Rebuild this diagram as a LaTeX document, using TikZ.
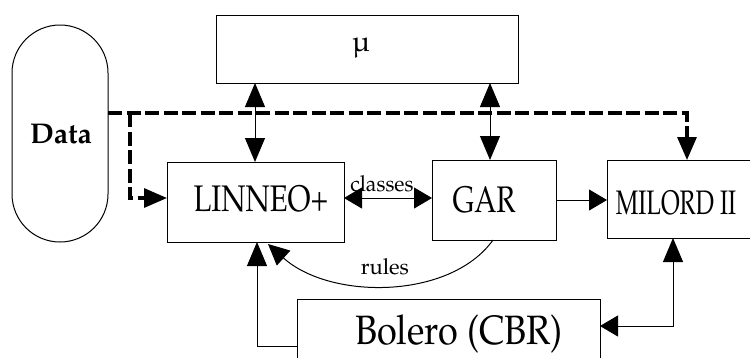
\documentclass[tikz,border=0pt]{standalone}
\usepackage[T1]{fontenc}
\usepackage{mathpazo}
\usepackage{textcomp}
\usetikzlibrary{arrows.meta,calc}
\tikzset{
  vtip/.tip={Triangle[length=24pt,width=20pt]},
  htip/.tip={Triangle[length=18pt,width=21pt]},
  dtip/.tip={Triangle[length=23pt,width=19pt]},
  rtip/.tip={Triangle[length=21pt,width=20pt]},
  box/.style={draw, line width=1pt, inner sep=0pt, outer sep=0pt},
  lab/.style={inner sep=0pt, anchor=base},
  ln/.style={line width=1pt},
  dsh/.style={line width=3.2pt, dash pattern=on 14pt off 4.5pt},
}
\newcommand{\fs}[1]{\fontsize{#1}{#1}\selectfont}
\begin{document}
\begin{tikzpicture}[x=1pt,y=-1pt]
\useasboundingbox (0,0) rectangle (750,357);
\clip (0,0) rectangle (750,357);
% shapes
\node[box, rounded corners=48pt, minimum width=96pt, minimum height=217pt] (data) at (60,133.5) {};
\node[box, minimum width=302pt, minimum height=68pt] (mu) at (367,49) {};
\node[box, minimum width=177pt, minimum height=80pt] (linneo) at (255.5,202) {};
\node[box, minimum width=124pt, minimum height=80pt] (gar) at (494,200) {};
\node[box, minimum width=148pt, minimum height=78pt] (milord) at (681,199) {};
\node[box, minimum width=303pt, minimum height=71pt] (bolero) at (448.5,334.5) {};
% texts
\node[lab] (tdata) at (61,143) {\fs{28.5}\bfseries Data};
\node[lab] (tmu) at (361,51) {\fs{29}\textmu};
\node[lab] (tlinneo) at (261,211) {\fs{37}\scalebox{0.79}[1]{LINNEO+}};
\node[lab] (tgar) at (484,212) {\fs{37}\scalebox{0.77}[1]{GAR}};
\node[lab] (tmilord) at (676,214) {\fs{34}\scalebox{0.7}[1]{MILORD II}};
\node[lab] (tbolero) at (459,344) {\fs{41}\scalebox{0.88}[1]{Bolero (CBR)}};
\node[lab] (tclasses) at (382,191) {\fs{22}\scalebox{0.96}[1]{classes}};
\node[lab] (trules) at (385,274) {\fs{22}rules};
% helper coordinates
\coordinate (xa) at (255,0);
\coordinate (xg) at (490,0);
\coordinate (yd) at (0,113);
\coordinate (xm) at (687,0);
\coordinate (xb) at (130,0);
\coordinate (yb) at (0,198);
\coordinate (yc) at (0,198);
\coordinate (yg) at (0,200);
\coordinate (xr) at (493,0);
\coordinate (rend) at (268,244);
\coordinate (xbl) at (257,0);
\coordinate (yb2) at (0,346);
\coordinate (xmb) at (673,0);
\coordinate (ym) at (0,326);
% connectors
\draw[ln, vtip-vtip] (xa |- mu.south) -- (xa |- linneo.north);
\draw[ln, vtip-vtip] (xg |- mu.south) -- (xg |- gar.north);
\draw[dsh, -dtip] (data.east |- yd) -| (xm |- milord.north);
\draw[dsh, -dtip] (xb |- yd) |- (linneo.west |- yb);
\draw[ln, htip-htip] (linneo.east |- yc) -- (gar.west |- yc);
\draw[ln, -htip] (gar.east |- yg) -- (milord.west |- yg);
\draw[ln, -rtip] (xr |- gar.south) .. controls (450,300) and (330,300) .. (rend);
\draw[ln, -vtip] (bolero.west |- yb2) -| (xbl |- linneo.south);
\draw[ln, htip-vtip] (bolero.east |- ym) -| (xmb |- milord.south);
\end{tikzpicture}
\end{document}
